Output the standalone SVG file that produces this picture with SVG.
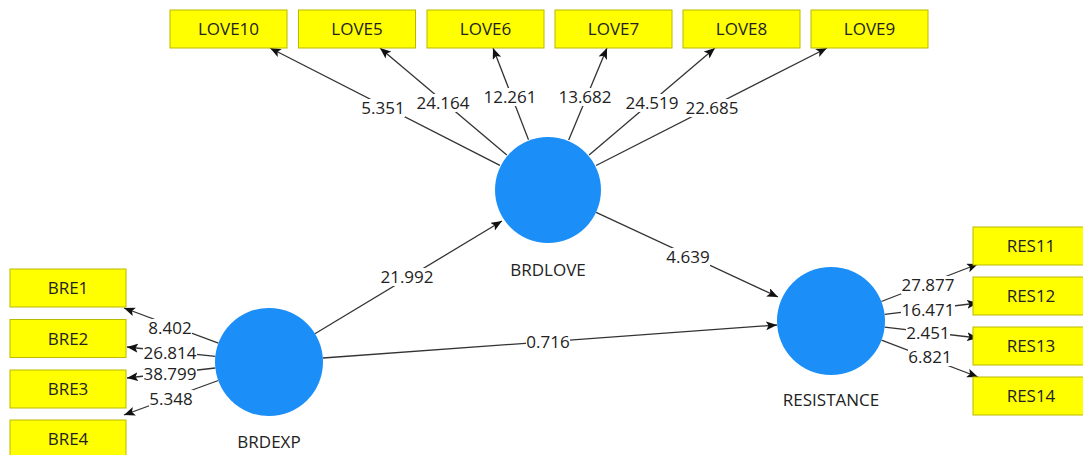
<svg xmlns="http://www.w3.org/2000/svg" width="1083" height="455" viewBox="0 0 1083 455">
<style>
text{font-family:"Open Sans","Noto Sans","DejaVu Sans",sans-serif;font-size:17px;fill:#222;text-anchor:middle}
.box{fill:#ffff00;stroke:#b9b900;stroke-width:1}
.lv{fill:#1b8ef8}
.ln{stroke:#333;stroke-width:1.3;fill:none;marker-end:url(#ah)}
.bg{fill:#fff}
</style>
<defs>
<marker id="ah" markerUnits="userSpaceOnUse" markerWidth="12" markerHeight="10" refX="11" refY="4.5" orient="auto">
<path d="M0,0 L11,4.5 L0,9 L2.5,4.5 z" fill="#111"/>
</marker>
</defs>
<rect width="1083" height="455" fill="#fff"/>
<g id="connectors">
<line class="ln" x1="499.9" y1="165.4" x2="270" y2="48"/>
<line class="ln" x1="506.8" y1="155.1" x2="380" y2="48"/>
<line class="ln" x1="528.5" y1="139.7" x2="493" y2="48"/>
<line class="ln" x1="568.7" y1="140.1" x2="607" y2="48"/>
<line class="ln" x1="589.1" y1="155.0" x2="715" y2="48"/>
<line class="ln" x1="596.1" y1="165.5" x2="827" y2="48"/>
<line class="ln" x1="218.4" y1="343.2" x2="124" y2="308"/>
<line class="ln" x1="215.3" y1="356.3" x2="127" y2="347"/>
<line class="ln" x1="215.3" y1="368.0" x2="127" y2="378"/>
<line class="ln" x1="218.3" y1="380.5" x2="124" y2="415"/>
<line class="ln" x1="881.3" y1="301.5" x2="978" y2="264"/>
<line class="ln" x1="884.6" y1="314.4" x2="978" y2="303"/>
<line class="ln" x1="884.6" y1="327.2" x2="978" y2="338"/>
<line class="ln" x1="881.5" y1="340.2" x2="978" y2="377"/>
<line class="ln" x1="314.9" y1="333.7" x2="502" y2="221"/>
<line class="ln" x1="596.1" y1="212.3" x2="778" y2="297"/>
<line class="ln" x1="323" y1="358" x2="777" y2="325"/>
<rect class="bg" x="361" y="99" width="44" height="18"/>
<rect class="bg" x="416" y="94" width="54" height="18"/>
<rect class="bg" x="483" y="88" width="54" height="18"/>
<rect class="bg" x="558" y="88" width="54" height="18"/>
<rect class="bg" x="625" y="94" width="54" height="18"/>
<rect class="bg" x="685" y="99" width="54" height="18"/>
<rect class="bg" x="148" y="319" width="44" height="18"/>
<rect class="bg" x="143" y="344" width="54" height="18"/>
<rect class="bg" x="143" y="365" width="54" height="18"/>
<rect class="bg" x="149" y="390" width="44" height="18"/>
<rect class="bg" x="901" y="276" width="54" height="18"/>
<rect class="bg" x="901" y="301" width="54" height="18"/>
<rect class="bg" x="906" y="324" width="44" height="18"/>
<rect class="bg" x="908" y="348" width="44" height="18"/>
<rect class="bg" x="380" y="268" width="54" height="18"/>
<rect class="bg" x="666" y="248" width="44" height="18"/>
<rect class="bg" x="526" y="333" width="44" height="18"/>
<text x="383" y="114">5.351</text>
<text x="443" y="109">24.164</text>
<text x="510" y="103">12.261</text>
<text x="585" y="103">13.682</text>
<text x="652" y="109">24.519</text>
<text x="712" y="114">22.685</text>
<text x="170" y="334">8.402</text>
<text x="170" y="359">26.814</text>
<text x="170" y="380">38.799</text>
<text x="171" y="405">5.348</text>
<text x="928" y="291">27.877</text>
<text x="928" y="316">16.471</text>
<text x="928" y="339">2.451</text>
<text x="930" y="363">6.821</text>
<text x="407" y="283">21.992</text>
<text x="688" y="263">4.639</text>
<text x="548" y="348">0.716</text>
</g>
<g id="BRDLOVE"><circle class="lv" cx="548" cy="190" r="53"/><text x="548" y="276">BRDLOVE</text></g>
<g id="BRDEXP"><circle class="lv" cx="269" cy="362" r="54"/><text x="269" y="448">BRDEXP</text></g>
<g id="RESISTANCE"><circle class="lv" cx="831" cy="321" r="54"/><text x="831" y="406">RESISTANCE</text></g>
<g id="LOVE10"><rect class="box" x="170" y="10" width="117" height="38"/><text x="228.5" y="35">LOVE10</text></g>
<g id="LOVE5"><rect class="box" x="298.5" y="10" width="117" height="38"/><text x="357" y="35">LOVE5</text></g>
<g id="LOVE6"><rect class="box" x="427" y="10" width="117" height="38"/><text x="485.5" y="35">LOVE6</text></g>
<g id="LOVE7"><rect class="box" x="555" y="10" width="117" height="38"/><text x="613.5" y="35">LOVE7</text></g>
<g id="LOVE8"><rect class="box" x="683" y="10" width="117" height="38"/><text x="741.5" y="35">LOVE8</text></g>
<g id="LOVE9"><rect class="box" x="811" y="10" width="117" height="38"/><text x="869.5" y="35">LOVE9</text></g>
<g id="BRE1"><rect class="box" x="10" y="269" width="116" height="38"/><text x="68" y="294">BRE1</text></g>
<g id="BRE2"><rect class="box" x="10" y="319.5" width="116" height="38"/><text x="68" y="344.5">BRE2</text></g>
<g id="BRE3"><rect class="box" x="10" y="370" width="116" height="38"/><text x="68" y="395">BRE3</text></g>
<g id="BRE4"><rect class="box" x="10" y="420" width="116" height="38"/><text x="68" y="445">BRE4</text></g>
<g id="RES11"><rect class="box" x="973" y="227" width="116" height="38"/><text x="1031" y="252">RES11</text></g>
<g id="RES12"><rect class="box" x="973" y="277" width="116" height="38"/><text x="1031" y="302">RES12</text></g>
<g id="RES13"><rect class="box" x="973" y="327" width="116" height="38"/><text x="1031" y="352">RES13</text></g>
<g id="RES14"><rect class="box" x="973" y="377" width="116" height="38"/><text x="1031" y="402">RES14</text></g>
</svg>
